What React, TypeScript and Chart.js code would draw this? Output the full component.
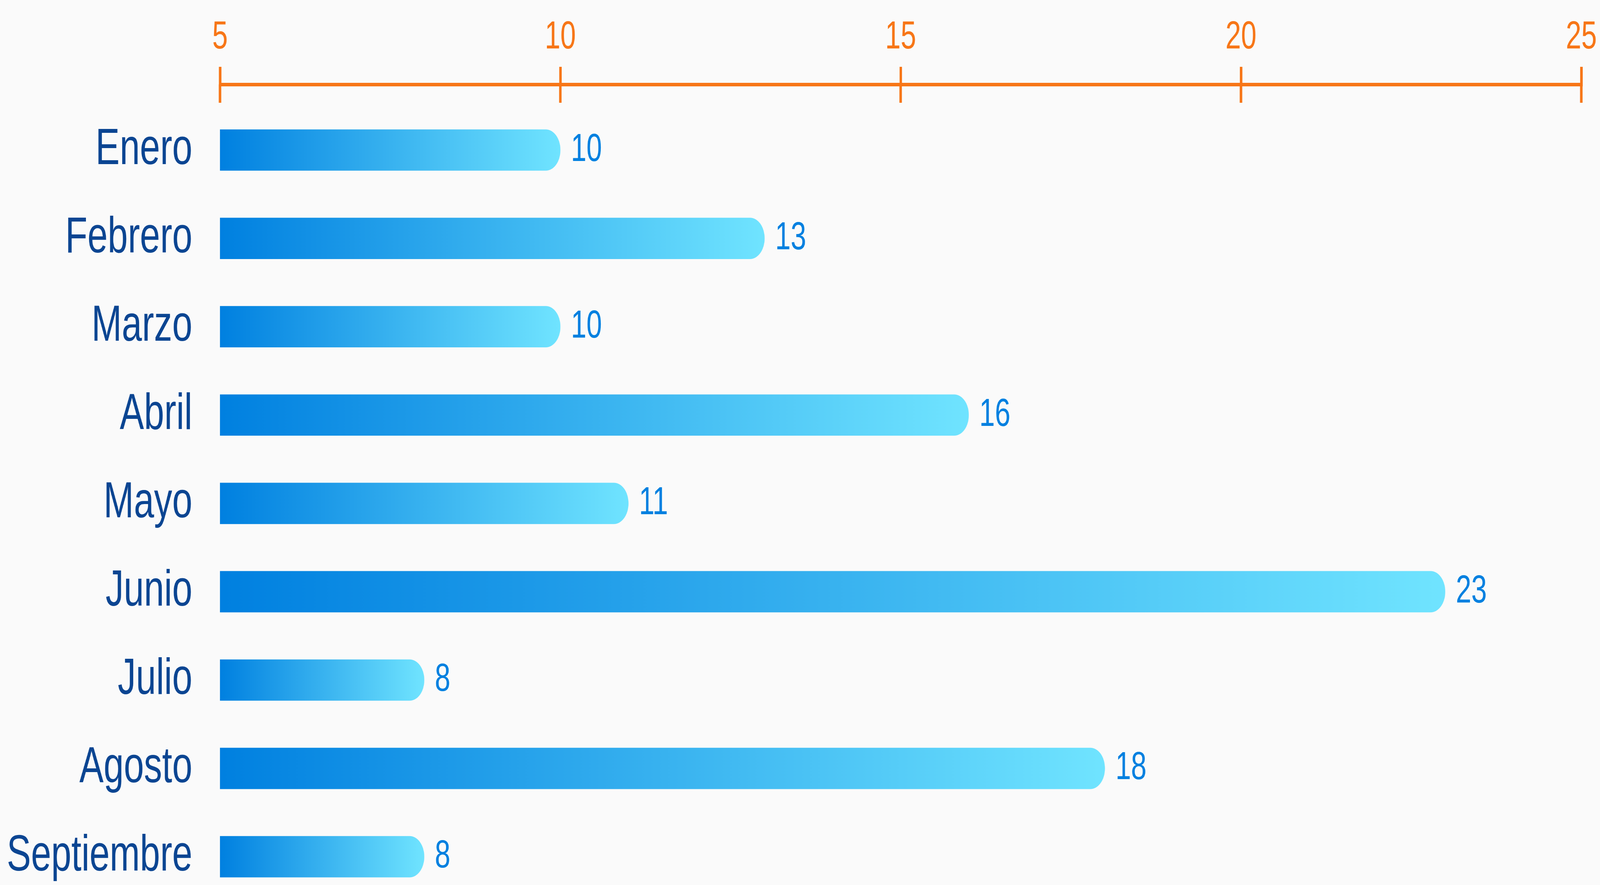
import React, { useEffect, useRef } from "react";
import { Chart, registerables } from "chart.js";

Chart.register(...registerables);

const months = ["Enero", "Febrero", "Marzo", "Abril", "Mayo", "Junio", "Julio", "Agosto", "Septiembre"];
const values = [10, 13, 10, 16, 11, 23, 8, 18, 8];
const axisMin = 5;
const axisMax = 25;
const axisStep = 5;

const W = 5731;
const H = 2265;
const ORANGE = "#f77617";
const LABEL_BLUE = "#0b4592";
const VALUE_BLUE = "#0080e0";
const FONT = "'Liberation Sans', Arial, sans-serif";

const customPlugin = {
  id: "customDecor",
  beforeDraw(chart: any) {
    const { ctx, width, height } = chart;
    ctx.save();
    ctx.fillStyle = "#fafafa";
    ctx.fillRect(0, 0, width, height);
    ctx.restore();
  },
  afterDraw(chart: any) {
    const { ctx, chartArea } = chart;
    const xs = chart.scales.x;
    ctx.save();
    // lower half of the axis tick marks
    ctx.strokeStyle = ORANGE;
    ctx.lineWidth = 9;
    xs.ticks.forEach((_t: any, i: number) => {
      const px = Math.round(xs.getPixelForTick(i));
      ctx.beginPath();
      ctx.moveTo(px, chartArea.top);
      ctx.lineTo(px, chartArea.top + 47);
      ctx.stroke();
    });
    // value labels
    const meta = chart.getDatasetMeta(0);
    ctx.fillStyle = VALUE_BLUE;
    ctx.font = `100px ${FONT}`;
    ctx.textAlign = "left";
    ctx.textBaseline = "middle";
    meta.data.forEach((el: any, i: number) => {
      ctx.fillText(String(values[i]), el.x + 38, el.y);
    });
    ctx.restore();
  },
};

export default function App() {
  const canvasRef = useRef<HTMLCanvasElement | null>(null);

  useEffect(() => {
    if (!canvasRef.current) return;
    const chart = new Chart(canvasRef.current, {
      type: "bar",
      data: {
        datasets: [
          {
            data: values.map((v, i) => ({ x: v, y: i })) as any,
            barThickness: 105,
            borderRadius: 60,
            borderSkipped: false,
            backgroundColor: (ctx: any) => {
              const chart = ctx.chart;
              const xs = chart.scales && chart.scales.x;
              if (!xs || ctx.type !== "data" || ctx.dataIndex === undefined) return "#38b2f0";
              const x0 = xs.getPixelForValue(axisMin);
              const x1 = xs.getPixelForValue(values[ctx.dataIndex]);
              if (!isFinite(x0) || !isFinite(x1) || x1 <= x0) return "#38b2f0";
              const g = chart.ctx.createLinearGradient(x0, 0, x1, 0);
              g.addColorStop(0, "#0080e0");
              g.addColorStop(1, "#70e4ff");
              return g;
            },
          } as any,
        ],
      },
      options: {
        indexAxis: "y",
        animation: false,
        responsive: false,
        devicePixelRatio: 1,
        layout: { padding: 0 },
        plugins: { legend: { display: false }, tooltip: { enabled: false } },
        scales: {
          x: {
            type: "linear",
            position: "top",
            min: axisMin,
            max: axisMax,
            ticks: {
              stepSize: axisStep,
              color: ORANGE,
              font: { family: FONT, size: 100 },
              padding: 15,
            },
            grid: {
              display: true,
              drawOnChartArea: false,
              drawTicks: true,
              tickLength: 45,
              color: ORANGE,
              lineWidth: 9,
            },
            border: { display: true, color: ORANGE, width: 9 },
            afterFit: (scale: any) => {
              scale.height = 216;
              scale.paddingLeft = 0;
              scale.paddingRight = 67;
            },
          },
          y: {
            type: "linear",
            reverse: true,
            offset: false,
            min: -0.743,
            max: 8.32,
            ticks: {
              stepSize: 1,
              autoSkip: false,
              includeBounds: false,
              color: LABEL_BLUE,
              font: { family: FONT, size: 130 },
              padding: 99,
              callback: (v: any) => (Number.isInteger(v) && months[v] !== undefined ? months[v] : ""),
            },
            grid: { display: false, drawTicks: false, offset: false },
            border: { display: false },
            afterFit: (scale: any) => {
              scale.width = 788;
              scale.paddingTop = 0;
              scale.paddingBottom = 0;
            },
          },
        },
      } as any,
      plugins: [customPlugin],
    });
    return () => chart.destroy();
  }, []);

  return (
    <div style={{ position: "fixed", left: 0, top: 0, width: "100vw", height: "100vh", overflow: "hidden", background: "#fafafa" }}>
      <canvas ref={canvasRef} width={W} height={H} style={{ display: "block", width: "100%", height: "100%" }} />
    </div>
  );
}
